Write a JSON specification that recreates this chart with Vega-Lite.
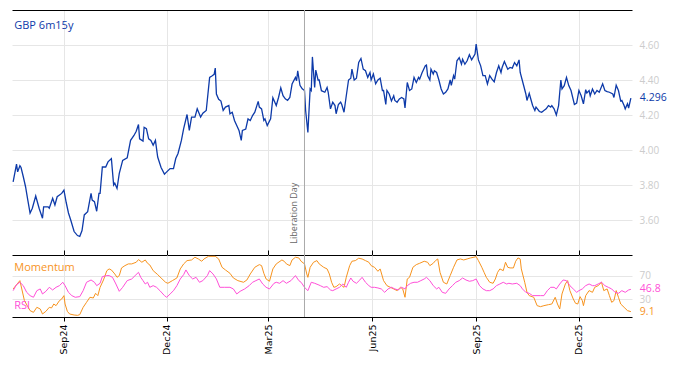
{
"$schema": "https://vega.github.io/schema/vega-lite/v6.json",
"padding": {"left": 10, "top": 9, "right": 0, "bottom": 0},
"spacing": 0,
"bounds": "flush",
"config": {"view": {"stroke": null}, "font": "Open Sans", "axis": {"gridColor": "#e6e6e6", "gridWidth": 1}},
"datasets": {
"rates": [
{"date":"2024-07-18","rate":3.818},{"date":"2024-07-21","rate":3.919},{"date":"2024-07-22","rate":3.875},{"date":"2024-07-24","rate":3.91},{"date":"2024-07-25","rate":3.90},{"date":"2024-07-27","rate":3.847},{"date":"2024-07-29","rate":3.79},{"date":"2024-07-31","rate":3.714},{"date":"2024-08-02","rate":3.639},{"date":"2024-08-04","rate":3.667},{"date":"2024-08-07","rate":3.737},{"date":"2024-08-10","rate":3.667},{"date":"2024-08-13","rate":3.61},{"date":"2024-08-14","rate":3.675},{"date":"2024-08-18","rate":3.675},{"date":"2024-08-19","rate":3.667},{"date":"2024-08-22","rate":3.724},{"date":"2024-08-24","rate":3.686},{"date":"2024-08-26","rate":3.733},{"date":"2024-08-30","rate":3.752},{"date":"2024-09-01","rate":3.771},{"date":"2024-09-03","rate":3.70},{"date":"2024-09-05","rate":3.64},{"date":"2024-09-07","rate":3.60},{"date":"2024-09-10","rate":3.534},{"date":"2024-09-13","rate":3.511},{"date":"2024-09-15","rate":3.506},{"date":"2024-09-17","rate":3.54},{"date":"2024-09-19","rate":3.629},{"date":"2024-09-22","rate":3.648},{"date":"2024-09-25","rate":3.752},{"date":"2024-09-26","rate":3.714},{"date":"2024-09-28","rate":3.705},{"date":"2024-09-30","rate":3.65},{"date":"2024-10-02","rate":3.752},{"date":"2024-10-03","rate":3.752},{"date":"2024-10-05","rate":3.903},{"date":"2024-10-08","rate":3.903},{"date":"2024-10-10","rate":3.932},{"date":"2024-10-13","rate":3.951},{"date":"2024-10-15","rate":3.80},{"date":"2024-10-16","rate":3.81},{"date":"2024-10-18","rate":3.78},{"date":"2024-10-20","rate":3.866},{"date":"2024-10-23","rate":3.941},{"date":"2024-10-27","rate":3.955},{"date":"2024-10-30","rate":4.055},{"date":"2024-11-02","rate":4.083},{"date":"2024-11-04","rate":4.107},{"date":"2024-11-06","rate":4.146},{"date":"2024-11-07","rate":4.064},{"date":"2024-11-10","rate":4.051},{"date":"2024-11-11","rate":4.13},{"date":"2024-11-13","rate":4.122},{"date":"2024-11-15","rate":4.064},{"date":"2024-11-17","rate":4.055},{"date":"2024-11-19","rate":4.027},{"date":"2024-11-21","rate":4.055},{"date":"2024-11-23","rate":3.96},{"date":"2024-11-26","rate":3.90},{"date":"2024-11-29","rate":3.862},{"date":"2024-12-01","rate":3.875},{"date":"2024-12-04","rate":3.894},{"date":"2024-12-07","rate":3.894},{"date":"2024-12-09","rate":3.951},{"date":"2024-12-11","rate":3.98},{"date":"2024-12-14","rate":4.055},{"date":"2024-12-16","rate":4.122},{"date":"2024-12-19","rate":4.203},{"date":"2024-12-21","rate":4.112},{"date":"2024-12-23","rate":4.188},{"date":"2024-12-26","rate":4.188},{"date":"2024-12-28","rate":4.235},{"date":"2024-12-31","rate":4.188},{"date":"2025-01-02","rate":4.21},{"date":"2025-01-05","rate":4.226},{"date":"2025-01-08","rate":4.415},{"date":"2025-01-10","rate":4.423},{"date":"2025-01-12","rate":4.432},{"date":"2025-01-13","rate":4.468},{"date":"2025-01-14","rate":4.32},{"date":"2025-01-16","rate":4.29},{"date":"2025-01-18","rate":4.28},{"date":"2025-01-20","rate":4.226},{"date":"2025-01-22","rate":4.245},{"date":"2025-01-25","rate":4.254},{"date":"2025-01-26","rate":4.207},{"date":"2025-01-28","rate":4.216},{"date":"2025-01-30","rate":4.169},{"date":"2025-02-01","rate":4.14},{"date":"2025-02-03","rate":4.112},{"date":"2025-02-05","rate":4.055},{"date":"2025-02-06","rate":4.112},{"date":"2025-02-09","rate":4.12},{"date":"2025-02-11","rate":4.178},{"date":"2025-02-13","rate":4.169},{"date":"2025-02-15","rate":4.197},{"date":"2025-02-17","rate":4.216},{"date":"2025-02-20","rate":4.278},{"date":"2025-02-21","rate":4.245},{"date":"2025-02-23","rate":4.235},{"date":"2025-02-25","rate":4.169},{"date":"2025-02-26","rate":4.178},{"date":"2025-02-28","rate":4.14},{"date":"2025-03-03","rate":4.178},{"date":"2025-03-05","rate":4.298},{"date":"2025-03-08","rate":4.254},{"date":"2025-03-10","rate":4.30},{"date":"2025-03-12","rate":4.355},{"date":"2025-03-14","rate":4.31},{"date":"2025-03-16","rate":4.292},{"date":"2025-03-18","rate":4.283},{"date":"2025-03-20","rate":4.30},{"date":"2025-03-22","rate":4.377},{"date":"2025-03-25","rate":4.415},{"date":"2025-03-26","rate":4.396},{"date":"2025-03-27","rate":4.453},{"date":"2025-03-29","rate":4.37},{"date":"2025-03-31","rate":4.35},{"date":"2025-04-02","rate":4.34},{"date":"2025-04-03","rate":4.226},{"date":"2025-04-05","rate":4.10},{"date":"2025-04-07","rate":4.349},{"date":"2025-04-08","rate":4.34},{"date":"2025-04-09","rate":4.532},{"date":"2025-04-11","rate":4.357},{"date":"2025-04-12","rate":4.457},{"date":"2025-04-14","rate":4.40},{"date":"2025-04-15","rate":4.40},{"date":"2025-04-17","rate":4.339},{"date":"2025-04-20","rate":4.33},{"date":"2025-04-22","rate":4.357},{"date":"2025-04-23","rate":4.329},{"date":"2025-04-25","rate":4.235},{"date":"2025-04-27","rate":4.273},{"date":"2025-04-29","rate":4.254},{"date":"2025-04-30","rate":4.207},{"date":"2025-05-02","rate":4.26},{"date":"2025-05-04","rate":4.273},{"date":"2025-05-05","rate":4.26},{"date":"2025-05-07","rate":4.216},{"date":"2025-05-09","rate":4.31},{"date":"2025-05-11","rate":4.40},{"date":"2025-05-13","rate":4.41},{"date":"2025-05-14","rate":4.462},{"date":"2025-05-16","rate":4.40},{"date":"2025-05-18","rate":4.41},{"date":"2025-05-20","rate":4.50},{"date":"2025-05-22","rate":4.523},{"date":"2025-05-24","rate":4.462},{"date":"2025-05-26","rate":4.453},{"date":"2025-05-28","rate":4.415},{"date":"2025-05-30","rate":4.443},{"date":"2025-05-31","rate":4.40},{"date":"2025-06-02","rate":4.434},{"date":"2025-06-04","rate":4.378},{"date":"2025-06-06","rate":4.40},{"date":"2025-06-08","rate":4.41},{"date":"2025-06-10","rate":4.34},{"date":"2025-06-11","rate":4.34},{"date":"2025-06-13","rate":4.26},{"date":"2025-06-14","rate":4.34},{"date":"2025-06-16","rate":4.32},{"date":"2025-06-18","rate":4.28},{"date":"2025-06-20","rate":4.31},{"date":"2025-06-21","rate":4.283},{"date":"2025-06-23","rate":4.273},{"date":"2025-06-25","rate":4.292},{"date":"2025-06-27","rate":4.30},{"date":"2025-06-29","rate":4.292},{"date":"2025-06-30","rate":4.24},{"date":"2025-07-02","rate":4.386},{"date":"2025-07-04","rate":4.34},{"date":"2025-07-06","rate":4.349},{"date":"2025-07-08","rate":4.415},{"date":"2025-07-10","rate":4.386},{"date":"2025-07-12","rate":4.415},{"date":"2025-07-13","rate":4.405},{"date":"2025-07-15","rate":4.44},{"date":"2025-07-18","rate":4.481},{"date":"2025-07-19","rate":4.485},{"date":"2025-07-20","rate":4.425},{"date":"2025-07-22","rate":4.40},{"date":"2025-07-23","rate":4.462},{"date":"2025-07-25","rate":4.434},{"date":"2025-07-26","rate":4.453},{"date":"2025-07-28","rate":4.443},{"date":"2025-07-30","rate":4.40},{"date":"2025-08-01","rate":4.349},{"date":"2025-08-03","rate":4.32},{"date":"2025-08-05","rate":4.33},{"date":"2025-08-07","rate":4.349},{"date":"2025-08-09","rate":4.40},{"date":"2025-08-10","rate":4.37},{"date":"2025-08-12","rate":4.425},{"date":"2025-08-13","rate":4.405},{"date":"2025-08-15","rate":4.51},{"date":"2025-08-17","rate":4.528},{"date":"2025-08-19","rate":4.49},{"date":"2025-08-20","rate":4.518},{"date":"2025-08-22","rate":4.49},{"date":"2025-08-24","rate":4.51},{"date":"2025-08-26","rate":4.544},{"date":"2025-08-28","rate":4.515},{"date":"2025-08-31","rate":4.548},{"date":"2025-09-01","rate":4.605},{"date":"2025-09-03","rate":4.515},{"date":"2025-09-05","rate":4.481},{"date":"2025-09-07","rate":4.425},{"date":"2025-09-09","rate":4.425},{"date":"2025-09-11","rate":4.377},{"date":"2025-09-13","rate":4.425},{"date":"2025-09-15","rate":4.405},{"date":"2025-09-17","rate":4.39},{"date":"2025-09-19","rate":4.443},{"date":"2025-09-21","rate":4.481},{"date":"2025-09-23","rate":4.443},{"date":"2025-09-24","rate":4.472},{"date":"2025-09-26","rate":4.506},{"date":"2025-09-29","rate":4.462},{"date":"2025-10-01","rate":4.472},{"date":"2025-10-03","rate":4.468},{"date":"2025-10-05","rate":4.50},{"date":"2025-10-07","rate":4.481},{"date":"2025-10-09","rate":4.515},{"date":"2025-10-10","rate":4.443},{"date":"2025-10-13","rate":4.37},{"date":"2025-10-15","rate":4.32},{"date":"2025-10-16","rate":4.283},{"date":"2025-10-18","rate":4.324},{"date":"2025-10-19","rate":4.30},{"date":"2025-10-21","rate":4.254},{"date":"2025-10-23","rate":4.226},{"date":"2025-10-24","rate":4.245},{"date":"2025-10-27","rate":4.22},{"date":"2025-10-29","rate":4.216},{"date":"2025-10-31","rate":4.226},{"date":"2025-11-02","rate":4.235},{"date":"2025-11-04","rate":4.254},{"date":"2025-11-06","rate":4.245},{"date":"2025-11-07","rate":4.254},{"date":"2025-11-09","rate":4.235},{"date":"2025-11-11","rate":4.20},{"date":"2025-11-13","rate":4.254},{"date":"2025-11-15","rate":4.40},{"date":"2025-11-16","rate":4.349},{"date":"2025-11-18","rate":4.368},{"date":"2025-11-20","rate":4.415},{"date":"2025-11-22","rate":4.368},{"date":"2025-11-24","rate":4.34},{"date":"2025-11-27","rate":4.26},{"date":"2025-11-29","rate":4.268},{"date":"2025-12-01","rate":4.34},{"date":"2025-12-03","rate":4.31},{"date":"2025-12-05","rate":4.264},{"date":"2025-12-07","rate":4.345},{"date":"2025-12-08","rate":4.326},{"date":"2025-12-10","rate":4.34},{"date":"2025-12-11","rate":4.31},{"date":"2025-12-13","rate":4.349},{"date":"2025-12-15","rate":4.32},{"date":"2025-12-17","rate":4.34},{"date":"2025-12-19","rate":4.33},{"date":"2025-12-22","rate":4.378},{"date":"2025-12-24","rate":4.34},{"date":"2025-12-26","rate":4.334},{"date":"2025-12-28","rate":4.33},{"date":"2025-12-31","rate":4.32},{"date":"2026-01-01","rate":4.30},{"date":"2026-01-03","rate":4.37},{"date":"2026-01-05","rate":4.34},{"date":"2026-01-07","rate":4.28},{"date":"2026-01-08","rate":4.283},{"date":"2026-01-10","rate":4.254},{"date":"2026-01-11","rate":4.235},{"date":"2026-01-13","rate":4.264},{"date":"2026-01-14","rate":4.24},{"date":"2026-01-16","rate":4.296}
],
"osc": [
{"date":"2024-07-18","series":"Momentum","value":47.5},{"date":"2024-07-24","series":"Momentum","value":61.6},{"date":"2024-07-28","series":"Momentum","value":27.7},{"date":"2024-08-02","series":"Momentum","value":10.8},{"date":"2024-08-05","series":"Momentum","value":7.9},{"date":"2024-08-08","series":"Momentum","value":16.4},{"date":"2024-08-11","series":"Momentum","value":13.6},{"date":"2024-08-13","series":"Momentum","value":5.1},{"date":"2024-08-16","series":"Momentum","value":9.6},{"date":"2024-08-19","series":"Momentum","value":16.4},{"date":"2024-08-21","series":"Momentum","value":15.3},{"date":"2024-08-23","series":"Momentum","value":22.0},{"date":"2024-08-25","series":"Momentum","value":19.2},{"date":"2024-08-28","series":"Momentum","value":27.7},{"date":"2024-08-30","series":"Momentum","value":30.5},{"date":"2024-09-01","series":"Momentum","value":36.2},{"date":"2024-09-02","series":"Momentum","value":22.0},{"date":"2024-09-04","series":"Momentum","value":9.6},{"date":"2024-09-06","series":"Momentum","value":5.1},{"date":"2024-09-10","series":"Momentum","value":3.4},{"date":"2024-09-13","series":"Momentum","value":2.8},{"date":"2024-09-15","series":"Momentum","value":4.0},{"date":"2024-09-18","series":"Momentum","value":16.4},{"date":"2024-09-21","series":"Momentum","value":24.9},{"date":"2024-09-24","series":"Momentum","value":33.4},{"date":"2024-09-27","series":"Momentum","value":32.2},{"date":"2024-09-29","series":"Momentum","value":40.1},{"date":"2024-10-01","series":"Momentum","value":36.2},{"date":"2024-10-03","series":"Momentum","value":50.3},{"date":"2024-10-06","series":"Momentum","value":62.7},{"date":"2024-10-09","series":"Momentum","value":78.5},{"date":"2024-10-11","series":"Momentum","value":81.4},{"date":"2024-10-13","series":"Momentum","value":79.7},{"date":"2024-10-16","series":"Momentum","value":72.9},{"date":"2024-10-18","series":"Momentum","value":67.2},{"date":"2024-10-20","series":"Momentum","value":70.1},{"date":"2024-10-22","series":"Momentum","value":83.1},{"date":"2024-10-25","series":"Momentum","value":87.0},{"date":"2024-10-28","series":"Momentum","value":89.9},{"date":"2024-10-31","series":"Momentum","value":89.9},{"date":"2024-11-04","series":"Momentum","value":92.7},{"date":"2024-11-06","series":"Momentum","value":97.2},{"date":"2024-11-09","series":"Momentum","value":92.7},{"date":"2024-11-12","series":"Momentum","value":96.6},{"date":"2024-11-14","series":"Momentum","value":91.0},{"date":"2024-11-16","series":"Momentum","value":88.2},{"date":"2024-11-19","series":"Momentum","value":78.5},{"date":"2024-11-23","series":"Momentum","value":71.8},{"date":"2024-11-26","series":"Momentum","value":66.1},{"date":"2024-11-30","series":"Momentum","value":58.8},{"date":"2024-12-02","series":"Momentum","value":57.1},{"date":"2024-12-06","series":"Momentum","value":61.6},{"date":"2024-12-10","series":"Momentum","value":66.1},{"date":"2024-12-13","series":"Momentum","value":81.4},{"date":"2024-12-16","series":"Momentum","value":89.9},{"date":"2024-12-19","series":"Momentum","value":95.5},{"date":"2024-12-23","series":"Momentum","value":96.6},{"date":"2024-12-26","series":"Momentum","value":101.2},{"date":"2024-12-29","series":"Momentum","value":98.3},{"date":"2025-01-01","series":"Momentum","value":94.4},{"date":"2025-01-03","series":"Momentum","value":98.3},{"date":"2025-01-07","series":"Momentum","value":102.8},{"date":"2025-01-13","series":"Momentum","value":102.8},{"date":"2025-01-16","series":"Momentum","value":98.3},{"date":"2025-01-19","series":"Momentum","value":84.2},{"date":"2025-01-22","series":"Momentum","value":79.7},{"date":"2025-01-26","series":"Momentum","value":74.0},{"date":"2025-01-29","series":"Momentum","value":66.1},{"date":"2025-02-02","series":"Momentum","value":61.6},{"date":"2025-02-07","series":"Momentum","value":58.8},{"date":"2025-02-10","series":"Momentum","value":62.7},{"date":"2025-02-13","series":"Momentum","value":72.9},{"date":"2025-02-17","series":"Momentum","value":84.2},{"date":"2025-02-21","series":"Momentum","value":88.7},{"date":"2025-02-23","series":"Momentum","value":87.0},{"date":"2025-02-25","series":"Momentum","value":74.0},{"date":"2025-02-27","series":"Momentum","value":64.4},{"date":"2025-03-02","series":"Momentum","value":60.5},{"date":"2025-03-05","series":"Momentum","value":81.4},{"date":"2025-03-08","series":"Momentum","value":89.9},{"date":"2025-03-13","series":"Momentum","value":96.6},{"date":"2025-03-15","series":"Momentum","value":94.4},{"date":"2025-03-17","series":"Momentum","value":89.9},{"date":"2025-03-20","series":"Momentum","value":87.0},{"date":"2025-03-22","series":"Momentum","value":96.6},{"date":"2025-03-25","series":"Momentum","value":101.2},{"date":"2025-03-28","series":"Momentum","value":100.0},{"date":"2025-03-30","series":"Momentum","value":94.4},{"date":"2025-04-02","series":"Momentum","value":89.9},{"date":"2025-04-04","series":"Momentum","value":72.9},{"date":"2025-04-05","series":"Momentum","value":67.2},{"date":"2025-04-07","series":"Momentum","value":84.2},{"date":"2025-04-10","series":"Momentum","value":92.7},{"date":"2025-04-13","series":"Momentum","value":95.5},{"date":"2025-04-15","series":"Momentum","value":89.9},{"date":"2025-04-19","series":"Momentum","value":84.2},{"date":"2025-04-22","series":"Momentum","value":81.4},{"date":"2025-04-24","series":"Momentum","value":72.9},{"date":"2025-04-26","series":"Momentum","value":58.8},{"date":"2025-04-28","series":"Momentum","value":50.3},{"date":"2025-04-30","series":"Momentum","value":51.4},{"date":"2025-05-03","series":"Momentum","value":55.9},{"date":"2025-05-05","series":"Momentum","value":53.1},{"date":"2025-05-07","series":"Momentum","value":50.3},{"date":"2025-05-09","series":"Momentum","value":67.2},{"date":"2025-05-12","series":"Momentum","value":87.0},{"date":"2025-05-14","series":"Momentum","value":94.4},{"date":"2025-05-17","series":"Momentum","value":95.5},{"date":"2025-05-20","series":"Momentum","value":99.5},{"date":"2025-05-23","series":"Momentum","value":98.3},{"date":"2025-05-26","series":"Momentum","value":95.5},{"date":"2025-05-29","series":"Momentum","value":92.7},{"date":"2025-05-31","series":"Momentum","value":87.0},{"date":"2025-06-03","series":"Momentum","value":84.2},{"date":"2025-06-06","series":"Momentum","value":77.4},{"date":"2025-06-08","series":"Momentum","value":81.4},{"date":"2025-06-11","series":"Momentum","value":61.6},{"date":"2025-06-14","series":"Momentum","value":53.1},{"date":"2025-06-17","series":"Momentum","value":50.3},{"date":"2025-06-20","series":"Momentum","value":47.5},{"date":"2025-06-23","series":"Momentum","value":44.7},{"date":"2025-06-26","series":"Momentum","value":50.3},{"date":"2025-06-28","series":"Momentum","value":47.5},{"date":"2025-06-30","series":"Momentum","value":33.4},{"date":"2025-07-02","series":"Momentum","value":64.4},{"date":"2025-07-04","series":"Momentum","value":67.2},{"date":"2025-07-07","series":"Momentum","value":84.2},{"date":"2025-07-10","series":"Momentum","value":88.7},{"date":"2025-07-13","series":"Momentum","value":91.0},{"date":"2025-07-17","series":"Momentum","value":94.4},{"date":"2025-07-20","series":"Momentum","value":92.7},{"date":"2025-07-22","series":"Momentum","value":87.0},{"date":"2025-07-25","series":"Momentum","value":91.0},{"date":"2025-07-27","series":"Momentum","value":95.5},{"date":"2025-07-29","series":"Momentum","value":98.3},{"date":"2025-07-31","series":"Momentum","value":75.7},{"date":"2025-08-03","series":"Momentum","value":58.8},{"date":"2025-08-06","series":"Momentum","value":55.9},{"date":"2025-08-09","series":"Momentum","value":70.1},{"date":"2025-08-12","series":"Momentum","value":84.2},{"date":"2025-08-15","series":"Momentum","value":96.6},{"date":"2025-08-18","series":"Momentum","value":98.3},{"date":"2025-08-21","series":"Momentum","value":96.6},{"date":"2025-08-24","series":"Momentum","value":98.3},{"date":"2025-08-27","series":"Momentum","value":100.0},{"date":"2025-08-30","series":"Momentum","value":101.2},{"date":"2025-09-01","series":"Momentum","value":102.3},{"date":"2025-09-03","series":"Momentum","value":95.5},{"date":"2025-09-06","series":"Momentum","value":84.2},{"date":"2025-09-08","series":"Momentum","value":75.7},{"date":"2025-09-10","series":"Momentum","value":67.2},{"date":"2025-09-13","series":"Momentum","value":58.8},{"date":"2025-09-16","series":"Momentum","value":57.1},{"date":"2025-09-18","series":"Momentum","value":64.4},{"date":"2025-09-20","series":"Momentum","value":75.7},{"date":"2025-09-22","series":"Momentum","value":81.4},{"date":"2025-09-25","series":"Momentum","value":78.5},{"date":"2025-09-27","series":"Momentum","value":92.7},{"date":"2025-09-29","series":"Momentum","value":84.2},{"date":"2025-10-01","series":"Momentum","value":83.1},{"date":"2025-10-04","series":"Momentum","value":83.1},{"date":"2025-10-06","series":"Momentum","value":94.4},{"date":"2025-10-08","series":"Momentum","value":100.0},{"date":"2025-10-10","series":"Momentum","value":98.3},{"date":"2025-10-11","series":"Momentum","value":81.4},{"date":"2025-10-14","series":"Momentum","value":58.8},{"date":"2025-10-16","series":"Momentum","value":41.8},{"date":"2025-10-18","series":"Momentum","value":36.2},{"date":"2025-10-22","series":"Momentum","value":33.4},{"date":"2025-10-25","series":"Momentum","value":19.2},{"date":"2025-10-28","series":"Momentum","value":17.5},{"date":"2025-10-31","series":"Momentum","value":19.2},{"date":"2025-11-04","series":"Momentum","value":20.9},{"date":"2025-11-07","series":"Momentum","value":22.0},{"date":"2025-11-10","series":"Momentum","value":33.4},{"date":"2025-11-12","series":"Momentum","value":22.0},{"date":"2025-11-14","series":"Momentum","value":13.6},{"date":"2025-11-16","series":"Momentum","value":39.0},{"date":"2025-11-19","series":"Momentum","value":55.9},{"date":"2025-11-21","series":"Momentum","value":61.6},{"date":"2025-11-23","series":"Momentum","value":44.7},{"date":"2025-11-26","series":"Momentum","value":30.5},{"date":"2025-11-28","series":"Momentum","value":23.2},{"date":"2025-11-30","series":"Momentum","value":22.0},{"date":"2025-12-02","series":"Momentum","value":34.5},{"date":"2025-12-04","series":"Momentum","value":27.7},{"date":"2025-12-05","series":"Momentum","value":19.2},{"date":"2025-12-07","series":"Momentum","value":36.2},{"date":"2025-12-10","series":"Momentum","value":44.7},{"date":"2025-12-13","series":"Momentum","value":41.8},{"date":"2025-12-15","series":"Momentum","value":50.3},{"date":"2025-12-18","series":"Momentum","value":53.1},{"date":"2025-12-21","series":"Momentum","value":58.8},{"date":"2025-12-23","series":"Momentum","value":44.7},{"date":"2025-12-26","series":"Momentum","value":47.5},{"date":"2025-12-28","series":"Momentum","value":36.2},{"date":"2025-12-30","series":"Momentum","value":24.9},{"date":"2026-01-01","series":"Momentum","value":27.7},{"date":"2026-01-03","series":"Momentum","value":44.7},{"date":"2026-01-05","series":"Momentum","value":33.4},{"date":"2026-01-07","series":"Momentum","value":22.0},{"date":"2026-01-10","series":"Momentum","value":16.4},{"date":"2026-01-13","series":"Momentum","value":10.8},{"date":"2026-01-16","series":"Momentum","value":9.1},
{"date":"2024-07-18","series":"RSI","value":44.6},{"date":"2024-07-21","series":"RSI","value":54.8},{"date":"2024-07-24","series":"RSI","value":58.8},{"date":"2024-07-27","series":"RSI","value":53.1},{"date":"2024-07-30","series":"RSI","value":41.8},{"date":"2024-08-02","series":"RSI","value":36.2},{"date":"2024-08-05","series":"RSI","value":33.4},{"date":"2024-08-08","series":"RSI","value":44.6},{"date":"2024-08-11","series":"RSI","value":47.5},{"date":"2024-08-13","series":"RSI","value":39.0},{"date":"2024-08-16","series":"RSI","value":43.5},{"date":"2024-08-19","series":"RSI","value":50.3},{"date":"2024-08-22","series":"RSI","value":45.8},{"date":"2024-08-25","series":"RSI","value":50.3},{"date":"2024-08-28","series":"RSI","value":53.1},{"date":"2024-08-31","series":"RSI","value":58.8},{"date":"2024-09-02","series":"RSI","value":53.1},{"date":"2024-09-05","series":"RSI","value":41.8},{"date":"2024-09-08","series":"RSI","value":36.2},{"date":"2024-09-11","series":"RSI","value":33.4},{"date":"2024-09-15","series":"RSI","value":34.5},{"date":"2024-09-18","series":"RSI","value":44.6},{"date":"2024-09-21","series":"RSI","value":58.8},{"date":"2024-09-25","series":"RSI","value":62.7},{"date":"2024-09-28","series":"RSI","value":58.8},{"date":"2024-09-30","series":"RSI","value":53.1},{"date":"2024-10-03","series":"RSI","value":57.1},{"date":"2024-10-05","series":"RSI","value":68.4},{"date":"2024-10-09","series":"RSI","value":70.1},{"date":"2024-10-11","series":"RSI","value":70.1},{"date":"2024-10-14","series":"RSI","value":67.2},{"date":"2024-10-17","series":"RSI","value":55.9},{"date":"2024-10-20","series":"RSI","value":43.5},{"date":"2024-10-23","series":"RSI","value":50.3},{"date":"2024-10-27","series":"RSI","value":61.6},{"date":"2024-10-31","series":"RSI","value":64.4},{"date":"2024-11-03","series":"RSI","value":70.1},{"date":"2024-11-06","series":"RSI","value":75.7},{"date":"2024-11-08","series":"RSI","value":67.2},{"date":"2024-11-10","series":"RSI","value":61.6},{"date":"2024-11-12","series":"RSI","value":55.9},{"date":"2024-11-14","series":"RSI","value":58.8},{"date":"2024-11-16","series":"RSI","value":50.3},{"date":"2024-11-19","series":"RSI","value":53.1},{"date":"2024-11-22","series":"RSI","value":50.3},{"date":"2024-11-25","series":"RSI","value":44.6},{"date":"2024-11-29","series":"RSI","value":36.2},{"date":"2024-12-01","series":"RSI","value":33.4},{"date":"2024-12-04","series":"RSI","value":39.0},{"date":"2024-12-07","series":"RSI","value":44.6},{"date":"2024-12-10","series":"RSI","value":53.1},{"date":"2024-12-13","series":"RSI","value":64.4},{"date":"2024-12-16","series":"RSI","value":71.8},{"date":"2024-12-18","series":"RSI","value":79.7},{"date":"2024-12-21","series":"RSI","value":70.1},{"date":"2024-12-24","series":"RSI","value":64.4},{"date":"2024-12-27","series":"RSI","value":67.2},{"date":"2024-12-30","series":"RSI","value":58.8},{"date":"2025-01-02","series":"RSI","value":61.6},{"date":"2025-01-06","series":"RSI","value":70.1},{"date":"2025-01-08","series":"RSI","value":78.5},{"date":"2025-01-11","series":"RSI","value":72.9},{"date":"2025-01-14","series":"RSI","value":64.4},{"date":"2025-01-17","series":"RSI","value":50.3},{"date":"2025-01-21","series":"RSI","value":50.3},{"date":"2025-01-26","series":"RSI","value":50.3},{"date":"2025-01-29","series":"RSI","value":47.5},{"date":"2025-02-01","series":"RSI","value":39.0},{"date":"2025-02-04","series":"RSI","value":43.5},{"date":"2025-02-08","series":"RSI","value":47.5},{"date":"2025-02-12","series":"RSI","value":53.1},{"date":"2025-02-15","series":"RSI","value":58.8},{"date":"2025-02-18","series":"RSI","value":61.6},{"date":"2025-02-21","series":"RSI","value":64.4},{"date":"2025-02-24","series":"RSI","value":55.9},{"date":"2025-02-27","series":"RSI","value":50.3},{"date":"2025-03-02","series":"RSI","value":47.5},{"date":"2025-03-06","series":"RSI","value":57.1},{"date":"2025-03-08","series":"RSI","value":58.8},{"date":"2025-03-11","series":"RSI","value":57.1},{"date":"2025-03-14","series":"RSI","value":61.6},{"date":"2025-03-17","series":"RSI","value":57.1},{"date":"2025-03-21","series":"RSI","value":61.6},{"date":"2025-03-25","series":"RSI","value":70.1},{"date":"2025-03-28","series":"RSI","value":61.6},{"date":"2025-03-30","series":"RSI","value":58.8},{"date":"2025-04-02","series":"RSI","value":50.3},{"date":"2025-04-05","series":"RSI","value":44.6},{"date":"2025-04-08","series":"RSI","value":58.8},{"date":"2025-04-11","series":"RSI","value":57.1},{"date":"2025-04-14","series":"RSI","value":54.8},{"date":"2025-04-16","series":"RSI","value":53.1},{"date":"2025-04-19","series":"RSI","value":50.3},{"date":"2025-04-22","series":"RSI","value":51.4},{"date":"2025-04-25","series":"RSI","value":45.8},{"date":"2025-04-27","series":"RSI","value":44.6},{"date":"2025-04-30","series":"RSI","value":47.5},{"date":"2025-05-03","series":"RSI","value":50.3},{"date":"2025-05-06","series":"RSI","value":55.9},{"date":"2025-05-09","series":"RSI","value":50.3},{"date":"2025-05-11","series":"RSI","value":58.8},{"date":"2025-05-13","series":"RSI","value":66.1},{"date":"2025-05-15","series":"RSI","value":60.5},{"date":"2025-05-18","series":"RSI","value":57.1},{"date":"2025-05-21","series":"RSI","value":62.7},{"date":"2025-05-23","series":"RSI","value":67.2},{"date":"2025-05-26","series":"RSI","value":58.8},{"date":"2025-05-29","series":"RSI","value":53.1},{"date":"2025-05-31","series":"RSI","value":50.3},{"date":"2025-06-03","series":"RSI","value":50.3},{"date":"2025-06-06","series":"RSI","value":49.2},{"date":"2025-06-09","series":"RSI","value":47.5},{"date":"2025-06-12","series":"RSI","value":41.8},{"date":"2025-06-15","series":"RSI","value":47.5},{"date":"2025-06-18","series":"RSI","value":50.3},{"date":"2025-06-21","series":"RSI","value":47.5},{"date":"2025-06-24","series":"RSI","value":45.8},{"date":"2025-06-27","series":"RSI","value":50.3},{"date":"2025-06-30","series":"RSI","value":47.5},{"date":"2025-07-02","series":"RSI","value":53.1},{"date":"2025-07-05","series":"RSI","value":57.1},{"date":"2025-07-08","series":"RSI","value":58.8},{"date":"2025-07-11","series":"RSI","value":58.8},{"date":"2025-07-14","series":"RSI","value":61.6},{"date":"2025-07-17","series":"RSI","value":64.4},{"date":"2025-07-19","series":"RSI","value":67.2},{"date":"2025-07-22","series":"RSI","value":61.6},{"date":"2025-07-25","series":"RSI","value":53.1},{"date":"2025-07-28","series":"RSI","value":47.5},{"date":"2025-07-30","series":"RSI","value":50.3},{"date":"2025-08-02","series":"RSI","value":41.8},{"date":"2025-08-05","series":"RSI","value":40.1},{"date":"2025-08-08","series":"RSI","value":47.5},{"date":"2025-08-11","series":"RSI","value":53.1},{"date":"2025-08-14","series":"RSI","value":58.8},{"date":"2025-08-17","series":"RSI","value":61.6},{"date":"2025-08-20","series":"RSI","value":66.1},{"date":"2025-08-23","series":"RSI","value":62.7},{"date":"2025-08-26","series":"RSI","value":60.5},{"date":"2025-08-29","series":"RSI","value":61.6},{"date":"2025-09-01","series":"RSI","value":64.4},{"date":"2025-09-04","series":"RSI","value":53.1},{"date":"2025-09-07","series":"RSI","value":47.5},{"date":"2025-09-10","series":"RSI","value":44.6},{"date":"2025-09-13","series":"RSI","value":44.6},{"date":"2025-09-16","series":"RSI","value":47.5},{"date":"2025-09-19","series":"RSI","value":53.1},{"date":"2025-09-22","series":"RSI","value":55.9},{"date":"2025-09-25","series":"RSI","value":58.8},{"date":"2025-09-28","series":"RSI","value":55.9},{"date":"2025-09-30","series":"RSI","value":57.1},{"date":"2025-10-03","series":"RSI","value":55.9},{"date":"2025-10-07","series":"RSI","value":57.1},{"date":"2025-10-10","series":"RSI","value":53.1},{"date":"2025-10-12","series":"RSI","value":47.5},{"date":"2025-10-15","series":"RSI","value":41.8},{"date":"2025-10-18","series":"RSI","value":40.1},{"date":"2025-10-21","series":"RSI","value":36.2},{"date":"2025-10-24","series":"RSI","value":36.2},{"date":"2025-10-28","series":"RSI","value":36.2},{"date":"2025-10-31","series":"RSI","value":36.2},{"date":"2025-11-03","series":"RSI","value":44.6},{"date":"2025-11-06","series":"RSI","value":50.3},{"date":"2025-11-09","series":"RSI","value":50.3},{"date":"2025-11-11","series":"RSI","value":47.5},{"date":"2025-11-14","series":"RSI","value":55.9},{"date":"2025-11-17","series":"RSI","value":62.7},{"date":"2025-11-20","series":"RSI","value":61.6},{"date":"2025-11-23","series":"RSI","value":53.1},{"date":"2025-11-26","series":"RSI","value":47.5},{"date":"2025-11-29","series":"RSI","value":41.8},{"date":"2025-12-01","series":"RSI","value":44.6},{"date":"2025-12-04","series":"RSI","value":47.5},{"date":"2025-12-07","series":"RSI","value":53.1},{"date":"2025-12-10","series":"RSI","value":55.9},{"date":"2025-12-13","series":"RSI","value":53.1},{"date":"2025-12-15","series":"RSI","value":53.1},{"date":"2025-12-18","series":"RSI","value":55.9},{"date":"2025-12-21","series":"RSI","value":58.8},{"date":"2025-12-24","series":"RSI","value":53.1},{"date":"2025-12-27","series":"RSI","value":50.3},{"date":"2025-12-30","series":"RSI","value":47.5},{"date":"2026-01-02","series":"RSI","value":41.8},{"date":"2026-01-05","series":"RSI","value":40.1},{"date":"2026-01-08","series":"RSI","value":44.6},{"date":"2026-01-11","series":"RSI","value":41.8},{"date":"2026-01-14","series":"RSI","value":45.8},{"date":"2026-01-16","series":"RSI","value":46.8}
]
},
"vconcat": [
{
"width": 620, "height": 245,
"resolve": {"axis": {"x": "independent"}},
"layer": [
{"data": {"name": "rates"},
 "mark": {"type": "line", "color": "#0d3aa9", "strokeWidth": 1.3},
 "encoding": {
  "x": {"field": "date", "type": "temporal",
        "scale": {"type": "utc", "domain": [{"year": 2024, "month": 7, "date": 17, "utc": true}, {"year": 2026, "month": 1, "date": 17, "utc": true}]},
        "axis": {"orient": "bottom", "title": null, "labels": false, "grid": true, "domainColor": "#000000", "tickColor": "#000000", "tickSize": -5,
                 "values": [{"year": 2024, "month": 9, "date": 1, "utc": true}, {"year": 2024, "month": 12, "date": 1, "utc": true}, {"year": 2025, "month": 3, "date": 1, "utc": true}, {"year": 2025, "month": 6, "date": 1, "utc": true}, {"year": 2025, "month": 9, "date": 1, "utc": true}, {"year": 2025, "month": 12, "date": 1, "utc": true}]}},
  "y": {"field": "rate", "type": "quantitative",
        "scale": {"domain": [3.4, 4.8], "nice": false, "zero": false},
        "axis": {"orient": "right", "title": null, "values": [3.6, 3.8, 4.0, 4.2, 4.4, 4.6], "format": ".2f", "domain": false, "ticks": false, "labelPadding": 7, "labelColor": "#cccccc", "labelFontSize": 10, "labelFont": "Open Sans", "grid": true}}
 }},
{"data": {"values": [{"date": "2025-04-02", "event": "Liberation Day"}]},
 "mark": {"type": "rule", "color": "#aaaaaa", "strokeWidth": 1},
 "encoding": {
  "x": {"field": "date", "type": "temporal",
        "axis": {"orient": "top", "title": null, "labels": false, "ticks": false, "grid": false, "domainColor": "#000000"}}
 }},
{"data": {"values": [{"date": "2025-04-02", "rate": 3.465, "event": "Liberation Day"}]},
 "mark": {"type": "text", "angle": 270, "align": "left", "baseline": "bottom", "dy": -5, "fontSize": 9, "color": "#666666", "font": "Open Sans"},
 "encoding": {
  "x": {"field": "date", "type": "temporal", "axis": null},
  "y": {"field": "rate", "type": "quantitative"},
  "text": {"field": "event"}
 }},
{"data": {"values": [{"date": "2024-07-19", "rate": 4.71, "label": "GBP 6m15y"}]},
 "mark": {"type": "text", "align": "left", "baseline": "middle", "fontSize": 11, "color": "#0d3aa9", "font": "Open Sans"},
 "encoding": {
  "x": {"field": "date", "type": "temporal", "axis": null},
  "y": {"field": "rate", "type": "quantitative"},
  "text": {"field": "label"}
 }},
{"data": {"values": [{"date": "2026-01-16", "rate": 4.296, "label": "4.296"}]},
 "mark": {"type": "text", "align": "left", "baseline": "middle", "dx": 9, "fontSize": 10.5, "color": "#0d3aa9", "font": "Open Sans"},
 "encoding": {
  "x": {"field": "date", "type": "temporal", "axis": null},
  "y": {"field": "rate", "type": "quantitative"},
  "text": {"field": "label"}
 }}
]
},
{
"width": 620, "height": 62,
"layer": [
{"data": {"name": "osc"},
 "mark": {"type": "line", "strokeWidth": 1},
 "encoding": {
  "x": {"field": "date", "type": "temporal",
        "scale": {"type": "utc", "domain": [{"year": 2024, "month": 7, "date": 17, "utc": true}, {"year": 2026, "month": 1, "date": 17, "utc": true}]},
        "axis": {"orient": "bottom", "title": null, "format": "%b%y", "labelAngle": 270, "labelFont": "DejaVu Sans", "labelFontSize": 9.5, "labelColor": "#000000", "labelPadding": 3, "grid": true, "domainColor": "#000000", "tickColor": "#000000", "tickSize": 4,
                 "values": [{"year": 2024, "month": 9, "date": 1, "utc": true}, {"year": 2024, "month": 12, "date": 1, "utc": true}, {"year": 2025, "month": 3, "date": 1, "utc": true}, {"year": 2025, "month": 6, "date": 1, "utc": true}, {"year": 2025, "month": 9, "date": 1, "utc": true}, {"year": 2025, "month": 12, "date": 1, "utc": true}]}},
  "y": {"field": "value", "type": "quantitative",
        "scale": {"domain": [0, 105], "nice": false, "zero": false},
        "axis": {"orient": "right", "title": null, "values": [30, 70], "domain": false, "ticks": false, "labelPadding": 7, "labelColor": "#cccccc", "labelFontSize": 10, "labelFont": "Open Sans", "grid": true}},
  "color": {"field": "series", "type": "nominal", "scale": {"domain": ["Momentum", "RSI"], "range": ["#f7931e", "#ff4fd8"]}, "legend": null}
 }},
{"data": {"values": [{"date": "2025-04-02", "event": "Liberation Day"}]},
 "mark": {"type": "rule", "color": "#aaaaaa", "strokeWidth": 1},
 "encoding": {
  "x": {"field": "date", "type": "temporal"}
 }},
{"data": {"values": [{"date": "2024-07-19", "value": 83, "series": "Momentum"}, {"date": "2024-07-19", "value": 18.5, "series": "RSI"}]},
 "mark": {"type": "text", "align": "left", "baseline": "middle", "fontSize": 11, "font": "Open Sans"},
 "encoding": {
  "x": {"field": "date", "type": "temporal"},
  "y": {"field": "value", "type": "quantitative"},
  "color": {"field": "series", "type": "nominal", "legend": null},
  "text": {"field": "series"}
 }},
{"data": {"values": [{"date": "2026-01-16", "value": 46.8, "series": "RSI", "label": "46.8"}, {"date": "2026-01-16", "value": 9.1, "series": "Momentum", "label": "9.1"}]},
 "mark": {"type": "text", "align": "left", "baseline": "middle", "dx": 9, "fontSize": 10.5, "font": "Open Sans"},
 "encoding": {
  "x": {"field": "date", "type": "temporal"},
  "y": {"field": "value", "type": "quantitative"},
  "color": {"field": "series", "type": "nominal", "legend": null},
  "text": {"field": "label"}
 }}
]
}
]
}
